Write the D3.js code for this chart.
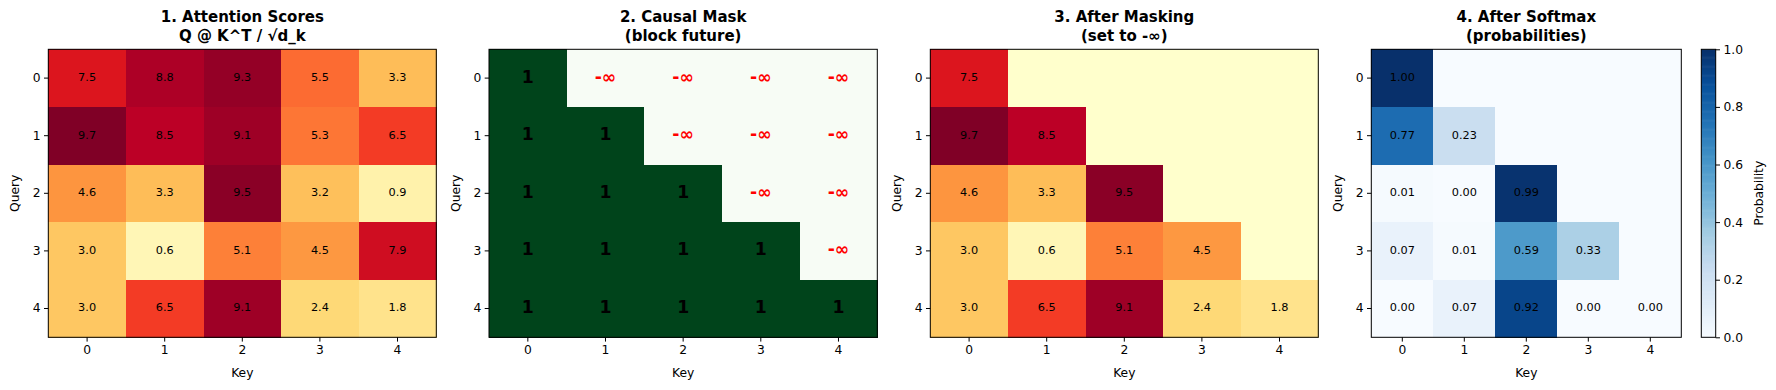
<!DOCTYPE html>
<html>
<head>
<meta charset="utf-8">
<script src="https://cdn.jsdelivr.net/npm/d3@7"></script>
<style>
  body { margin: 0; background: #fff; }
  svg { display: block; font-family: "DejaVu Sans", sans-serif; }
</style>
</head>
<body>
<svg id="chart" width="1776" height="390"></svg>
<script>
// tick labels for both axes
var keys = [0, 1, 2, 3, 4];
var queries = [0, 1, 2, 3, 4];

// raw scores Q @ K^T / sqrt(d_k)
var scores = [
  [7.5, 8.8, 9.3, 5.5, 3.3],
  [9.7, 8.5, 9.1, 5.3, 6.5],
  [4.6, 3.3, 9.5, 3.2, 0.9],
  [3.0, 0.6, 5.1, 4.5, 7.9],
  [3.0, 6.5, 9.1, 2.4, 1.8]
];

// causal mask, 1 = keep, 0 = block
var mask = [
  [1, 0, 0, 0, 0],
  [1, 1, 0, 0, 0],
  [1, 1, 1, 0, 0],
  [1, 1, 1, 1, 0],
  [1, 1, 1, 1, 1]
];

// softmax output
var probs = [
  [1.00, 0, 0, 0, 0],
  [0.77, 0.23, 0, 0, 0],
  [0.01, 0.00, 0.99, 0, 0],
  [0.07, 0.01, 0.59, 0.33, 0],
  [0.00, 0.07, 0.92, 0.00, 0.00]
];

var titles = [
  ["1. Attention Scores", "Q @ K^T / \u221Ad_k"],
  ["2. Causal Mask", "(block future)"],
  ["3. After Masking", "(set to -\u221E)"],
  ["4. After Softmax", "(probabilities)"]
];

var cbTicks = [0, 0.2, 0.4, 0.6, 0.8, 1.0];

// matplotlib colormaps (ColorBrewer 9-class)
var YlOrRd = ["#ffffcc", "#ffeda0", "#fed976", "#feb24c", "#fd8d3c", "#fc4e2a", "#e31a1c", "#bd0026", "#800026"];
var Greens = ["#f7fcf5", "#e5f5e0", "#c7e9c0", "#a1d99b", "#74c476", "#41ab5d", "#238b45", "#006d2c", "#00441b"];
var Blues = ["#f7fbff", "#deebf7", "#c6dbef", "#9ecae1", "#6baed6", "#4292c6", "#2171b5", "#08519c", "#08306b"];

function cmap(colors, lo, hi) {
  var n = colors.length - 1;
  return d3.scaleLinear()
    .domain(d3.range(n + 1).map(function(i) { return lo + (hi - lo) * i / n; }))
    .range(colors)
    .interpolate(d3.interpolateRgb)
    .clamp(true);
}

var flat = d3.merge(scores);
var scoreColor = cmap(YlOrRd, 0, d3.max(flat));
var maskColor = cmap(Greens, 0, 1);
var probColor = cmap(Blues, 0, 1);

var svg = d3.select("#chart");
var yTop = 49.3, yBottom = 337.3;

var panels = [
  { left: 48.3, right: 436.3 },
  { left: 489, right: 877.3 },
  { left: 930.3, right: 1318.3 },
  { left: 1371.3, right: 1681.3 }
];

function cellList() {
  var out = [];
  queries.forEach(function(q, i) {
    keys.forEach(function(k, j) { out.push({ q: q, k: k, i: i, j: j }); });
  });
  return out;
}

function drawPanel(idx, fill, label) {
  var p = panels[idx];
  var x = d3.scaleBand().domain(keys).range([p.left, p.right]);
  var y = d3.scaleBand().domain(queries).range([yTop, yBottom]);
  var g = svg.append("g");

  var cells = cellList();
  g.selectAll("rect.cell").data(cells).enter().append("rect")
    .attr("class", "cell")
    .attr("x", function(d) { return x(d.k); })
    .attr("y", function(d) { return y(d.q); })
    .attr("width", x.bandwidth() + 0.5)
    .attr("height", y.bandwidth() + 0.5)
    .attr("fill", fill)
    .attr("shape-rendering", "crispEdges");

  cells.forEach(function(d) {
    var t = label(d);
    if (!t) return;
    g.append("text")
      .attr("x", x(d.k) + x.bandwidth() / 2)
      .attr("y", y(d.q) + y.bandwidth() / 2)
      .attr("dy", "0.26em")
      .attr("text-anchor", "middle")
      .attr("font-size", t.size)
      .attr("font-weight", t.bold ? "bold" : "normal")
      .attr("fill", t.color)
      .text(t.text);
  });

  // frame
  g.append("rect")
    .attr("x", p.left).attr("y", yTop)
    .attr("width", p.right - p.left).attr("height", yBottom - yTop)
    .attr("fill", "none").attr("stroke", "#000").attr("stroke-width", 1);

  var xAxis = d3.axisBottom(x).tickSize(4.3).tickPadding(3.5);
  var yAxis = d3.axisLeft(y).tickSize(4.3).tickPadding(3.5);
  var gx = g.append("g").attr("transform", "translate(0," + yBottom + ")").call(xAxis);
  var gy = g.append("g").attr("transform", "translate(" + p.left + ",0)").call(yAxis);
  [gx, gy].forEach(function(a) {
    a.select(".domain").remove();
    a.selectAll("text").attr("font-size", 12.3).attr("font-family", "DejaVu Sans").attr("fill", "#000");
    a.selectAll("line").attr("stroke", "#000").attr("stroke-width", 1);
  });

  g.append("text")
    .attr("x", (p.left + p.right) / 2).attr("y", yBottom + 39.4)
    .attr("text-anchor", "middle").attr("font-size", 12.3).text("Key");
  g.append("text")
    .attr("transform", "translate(" + (p.left - 29) + "," + ((yTop + yBottom) / 2) + ") rotate(-90)")
    .attr("text-anchor", "middle").attr("font-size", 12.3).text("Query");

  var tt = g.append("text")
    .attr("text-anchor", "middle").attr("font-size", 15).attr("font-weight", "bold");
  titles[idx].forEach(function(line, n) {
    tt.append("tspan").attr("x", (p.left + p.right) / 2).attr("y", 22.3 + n * 18.4).text(line);
  });
}

// 1. raw scores
drawPanel(0,
  function(d) { return scoreColor(scores[d.i][d.j]); },
  function(d) { return { text: d3.format(".1f")(scores[d.i][d.j]), size: 11.3, color: "#000" }; });

// 2. mask
drawPanel(1,
  function(d) { return maskColor(mask[d.i][d.j]); },
  function(d) {
    return mask[d.i][d.j]
      ? { text: "1", size: 17.3, bold: true, color: "#000" }
      : { text: "-\u221E", size: 17.3, bold: true, color: "#ff0000" };
  });

// 3. masked scores
drawPanel(2,
  function(d) { return mask[d.i][d.j] ? scoreColor(scores[d.i][d.j]) : YlOrRd[0]; },
  function(d) {
    return mask[d.i][d.j] ? { text: d3.format(".1f")(scores[d.i][d.j]), size: 11.3, color: "#000" } : null;
  });

// 4. softmax
drawPanel(3,
  function(d) { return probColor(probs[d.i][d.j]); },
  function(d) {
    return mask[d.i][d.j] ? { text: d3.format(".2f")(probs[d.i][d.j]), size: 11.3, color: "#000" } : null;
  });

// colorbar
var cbLeft = 1701.3, cbRight = 1715.7;
var cy = d3.scaleLinear().domain([0, 1]).range([yBottom, yTop]);
var cb = svg.append("g");
var steps = d3.range(0, 256);
cb.selectAll("rect.s").data(steps).enter().append("rect")
  .attr("class", "s")
  .attr("x", cbLeft)
  .attr("y", function(s) { return cy((s + 1) / 256); })
  .attr("width", cbRight - cbLeft)
  .attr("height", (yBottom - yTop) / 256 + 0.6)
  .attr("fill", function(s) { return probColor((s + 0.5) / 256); });
cb.append("rect")
  .attr("x", cbLeft).attr("y", yTop)
  .attr("width", cbRight - cbLeft).attr("height", yBottom - yTop)
  .attr("fill", "none").attr("stroke", "#000").attr("stroke-width", 1);
var cbAxis = cb.append("g").attr("transform", "translate(" + cbRight + ",0)")
  .call(d3.axisRight(cy).tickValues(cbTicks).tickFormat(d3.format(".1f")).tickSize(4.3).tickPadding(3.5));
cbAxis.select(".domain").remove();
cbAxis.selectAll("text").attr("font-size", 12.3).attr("font-family", "DejaVu Sans").attr("fill", "#000");
cbAxis.selectAll("line").attr("stroke", "#000");
cb.append("text")
  .attr("transform", "translate(1763," + ((yTop + yBottom) / 2) + ") rotate(-90)")
  .attr("text-anchor", "middle").attr("font-size", 12.3).text("Probability");
</script>
</body>
</html>
